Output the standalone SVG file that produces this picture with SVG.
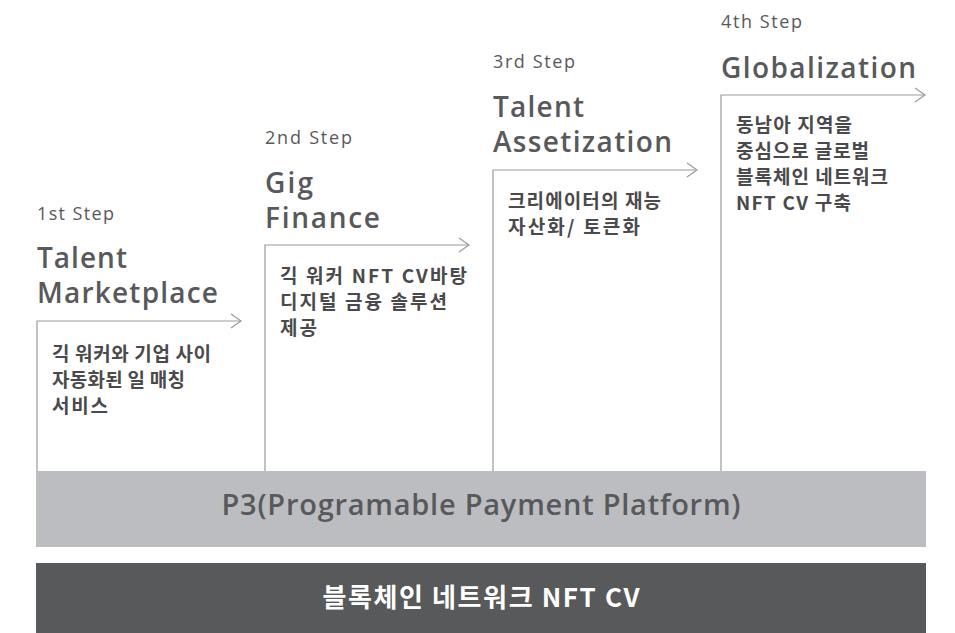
<svg xmlns="http://www.w3.org/2000/svg" width="955" height="633" viewBox="0 0 955 633">
<style>
.step{font-family:"Open Sans","Noto Sans",sans-serif;font-size:18px;fill:#58595b;}
.title{font-family:"Open Sans","Noto Sans",sans-serif;font-size:28px;font-weight:600;fill:#58595b;}
.body{font-family:"Noto Sans CJK KR","Open Sans",sans-serif;font-size:19px;font-weight:700;fill:#4a4a4c;}
.ln{fill:none;stroke:#9a9a9c;stroke-width:1.2;}
.band{font-family:"Open Sans","Noto Sans CJK KR",sans-serif;font-size:29px;font-weight:600;text-anchor:middle;}
.band2{font-family:"Noto Sans CJK KR","Open Sans",sans-serif;font-size:26px;font-weight:700;text-anchor:middle;}
</style>
<defs>
<marker id="chev" viewBox="0 0 12 16" refX="11" refY="8" markerWidth="12" markerHeight="16" markerUnits="userSpaceOnUse" orient="auto">
<path d="M1,1 L11,8 L1,15" fill="none" stroke="#9a9a9c" stroke-width="1.2"/>
</marker>
</defs>
<rect width="955" height="633" fill="#ffffff"/>
<g id="connectors">
<path class="ln" d="M37,471 V321 H241" marker-end="url(#chev)"/>
<path class="ln" d="M265,471 V245 H469" marker-end="url(#chev)"/>
<path class="ln" d="M493,471 V170 H697" marker-end="url(#chev)"/>
<path class="ln" d="M721,471 V95 H925" marker-end="url(#chev)"/>
</g>
<g id="step1">
<text class="step" x="37" y="220" textLength="77">1st Step</text>
<text class="title" x="37" y="268" textLength="90">Talent</text>
<text class="title" x="37" y="303" textLength="181">Marketplace</text>
<text class="body" x="52" y="361" textLength="159">긱 워커와 기업 사이</text>
<text class="body" x="52" y="387" textLength="133">자동화된 일 매칭</text>
<text class="body" x="52" y="413" textLength="56">서비스</text>
</g>
<g id="step2">
<text class="step" x="265" y="144" textLength="87">2nd Step</text>
<text class="title" x="265" y="193" textLength="48">Gig</text>
<text class="title" x="265" y="228" textLength="115">Finance</text>
<text class="body" x="280" y="283" textLength="187">긱 워커 NFT CV바탕</text>
<text class="body" x="280" y="309" textLength="167">디지털 금융 솔루션</text>
<text class="body" x="280" y="335" textLength="37">제공</text>
</g>
<g id="step3">
<text class="step" x="493" y="68" textLength="82">3rd Step</text>
<text class="title" x="493" y="117" textLength="91">Talent</text>
<text class="title" x="493" y="152" textLength="179">Assetization</text>
<text class="body" x="508" y="208" textLength="153">크리에이터의 재능</text>
<text class="body" x="508" y="234" textLength="132">자산화/ 토큰화</text>
</g>
<g id="step4">
<text class="step" x="721" y="28" textLength="81">4th Step</text>
<text class="title" x="721" y="78" textLength="195">Globalization</text>
<text class="body" x="736" y="132" textLength="116">동남아 지역을</text>
<text class="body" x="736" y="158" textLength="133">중심으로 글로벌</text>
<text class="body" x="736" y="184" textLength="152">블록체인 네트워크</text>
<text class="body" x="736" y="210" textLength="115">NFT CV 구축</text>
</g>
<g id="p3">
<rect x="36" y="471" width="890" height="76" fill="#bcbdc0"/>
<text class="band" x="481" y="515" fill="#58595b" textLength="519">P3(Programable Payment Platform)</text>
</g>
<g id="nftcv">
<rect x="36" y="563" width="890" height="70" fill="#58595b"/>
<text class="band2" x="481" y="607" fill="#ffffff" textLength="317">블록체인 네트워크 NFT CV</text>
</g>
</svg>
